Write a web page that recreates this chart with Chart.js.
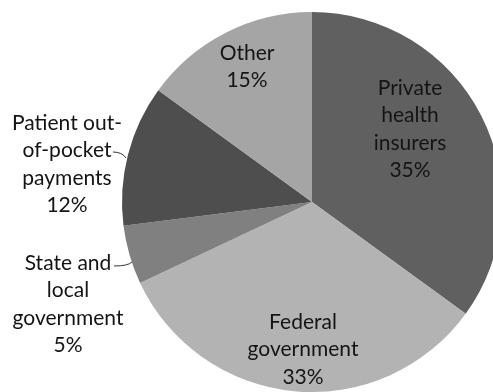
<!DOCTYPE html>
<html>
<head>
<meta charset="utf-8">
<script src="https://cdn.jsdelivr.net/npm/chart.js@4/dist/chart.umd.min.js"></script>
<style>
  html, body { margin: 0; padding: 0; background: #fff; }
  #wrap { width: 493px; height: 392px; overflow: hidden; position: relative; }
  #wrap canvas { position: absolute; left: 0; top: 0; }
</style>
</head>
<body>
<div id="wrap"><canvas id="pie" width="624" height="404"></canvas></div>
<script>
// spending shares, clockwise from 12 o'clock
const labels = [
  ['Private', 'health', 'insurers'],
  ['Federal', 'government'],
  ['State and', 'local', 'government'],
  ['Patient out-', 'of-pocket', 'payments'],
  ['Other']
];
const shares = [35, 33, 5, 12, 15];
const colors = ['#606060', '#b3b3b3', '#808080', '#4e4e4e', '#a5a5a5'];

// where each label block is centred (x, first line y) and leader lines
const labelPos = [
  { x: 410, y: 88 },
  { x: 303, y: 322 },
  { x: 68, y: 263, leader: [114, 266, 132, 262] },
  { x: 67, y: 123, leader: [113, 152, 126, 158] },
  { x: 247, y: 53 }
];

const sliceLabels = {
  id: 'sliceLabels',
  afterDraw(chart) {
    const ctx = chart.ctx;
    ctx.save();
    ctx.font = '21px Lato';
    ctx.fillStyle = '#141414';
    ctx.textAlign = 'center';
    ctx.textBaseline = 'middle';
    labels.forEach((lines, i) => {
      const p = labelPos[i];
      const all = lines.concat(shares[i] + '%');
      all.forEach((t, k) => ctx.fillText(t, p.x, p.y + k * 27.5));
      if (p.leader) {
        ctx.strokeStyle = '#333';
        ctx.lineWidth = 1;
        ctx.beginPath();
        ctx.moveTo(p.leader[0], p.leader[1]);
        ctx.quadraticCurveTo(p.leader[2] - 4, p.leader[1], p.leader[2], p.leader[3]);
        ctx.stroke();
      }
    });
    ctx.restore();
  }
};

new Chart(document.getElementById('pie'), {
  type: 'pie',
  data: {
    labels: labels.map(l => l.join(' ')),
    datasets: [{
      data: shares,
      backgroundColor: colors,
      borderWidth: 0
    }]
  },
  options: {
    responsive: false,
    animation: false,
    layout: { padding: 12 },
    plugins: {
      legend: { display: false },
      tooltip: { enabled: false }
    }
  },
  plugins: [sliceLabels]
});
</script>
</body>
</html>
